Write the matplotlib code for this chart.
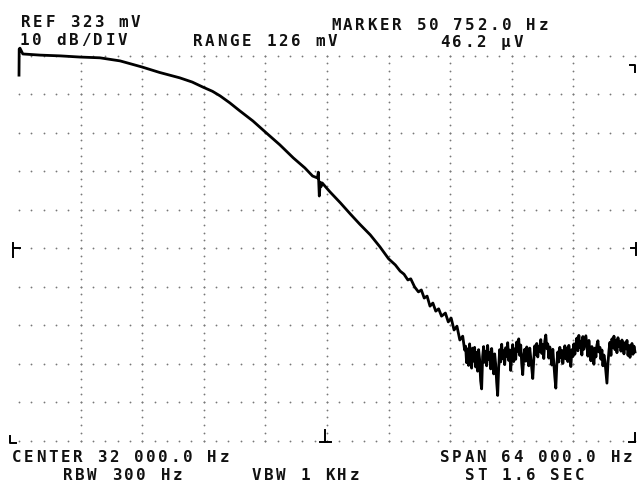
import numpy as np
import matplotlib
matplotlib.use("Agg")
import matplotlib.pyplot as plt

# ---------------------------------------------------------------------------
# Trace: frequency in kHz, level in dB below REF
# ---------------------------------------------------------------------------

trace_khz = [
    0.0, 0.02, 0.1, 0.4, 2.2, 4.3, 6.3, 8.4, 10.5, 12.8, 14.6, 16.7, 18.0,
    19.1, 20.1, 20.9, 21.9, 22.9, 24.3, 25.6, 27.1, 28.5, 29.7, 30.5, 31.0,
    31.1, 31.2, 31.3, 31.4, 31.5, 32.3, 33.4, 34.4, 35.4, 36.5, 37.5, 38.4,
    39.1, 39.6, 40.0, 40.4, 40.7, 41.1, 41.5, 41.8, 42.1, 42.4, 42.7, 43.0,
    43.3, 43.6, 43.9, 44.3, 44.6, 44.9, 45.2, 45.5, 45.8, 46.1, 46.3,
]
trace_db = [
    -5.1, 1.7, 1.9, 0.4, 0.1, -0.1, -0.4, -0.6, -1.4, -3.0, -4.4, -5.8,
    -6.9, -8.2, -9.3, -10.5, -12.3, -14.3, -17.0, -19.9, -23.2, -26.6,
    -29.2, -31.3, -31.8, -30.3, -36.5, -32.9, -34.0, -33.1, -35.4, -38.3,
    -41.1, -43.8, -46.6, -49.7, -52.8, -54.4, -56.0, -56.8, -58.3, -58.0,
    -60.1, -61.4, -60.9, -63.0, -62.5, -65.1, -64.3, -66.4, -65.8, -67.7,
    -66.9, -69.2, -68.2, -71.3, -70.3, -73.9, -72.9, -76.5,
]

# noise floor, 46.4 .. 64 kHz, one value per sweep point
noise_db = [
    -75.5, -79.8, -76.2, -80.5, -74.9, -78.6, -81.2, -76.0, -79.4, -75.8,
    -80.9, -77.1, -82.0, -76.4, -79.0, -84.5, -86.6, -78.2, -75.6, -79.7,
    -76.8, -80.6, -75.3, -78.9, -77.2, -81.4, -76.1, -79.8, -82.7, -77.5,
    -80.2, -84.9, -88.3, -81.0, -76.4, -79.6, -75.0, -78.8, -76.7, -80.3,
    -75.9, -78.1, -74.6, -79.2, -76.5, -81.8, -77.3, -75.1, -79.5, -76.2,
    -78.9, -74.4, -76.8, -73.6, -77.9, -75.2, -80.1, -82.9, -78.0, -76.3,
    -79.4, -75.7, -77.8, -80.6, -76.0, -78.5, -81.2, -83.9, -79.0, -75.4,
    -77.6, -74.8, -78.3, -75.5, -76.9, -73.8, -77.4, -75.0, -78.7, -74.2,
    -72.6, -76.1, -74.9, -78.6, -75.7, -77.9, -80.4, -76.3, -79.8, -83.5,
    -86.4, -80.2, -77.0, -79.6, -75.8, -78.4, -76.6, -80.0, -77.2, -75.4,
    -78.8, -76.0, -79.5, -75.3, -77.7, -80.8, -76.4, -78.2, -74.9, -77.6,
    -75.1, -73.4, -76.7, -72.7, -75.9, -74.2, -77.8, -73.0, -76.3, -74.6,
    -72.8, -75.5, -78.1, -74.0, -76.9, -79.3, -75.6, -77.4, -80.2, -76.0,
    -78.3, -75.2, -74.1, -77.0, -75.8, -78.9, -76.5, -80.6, -77.8, -79.4,
    -82.3, -85.1, -80.0, -76.7, -74.5, -77.9, -73.6, -75.8, -72.9, -76.4,
    -74.0, -77.2, -73.3, -75.6, -74.4, -76.8, -73.9, -75.1, -77.5, -74.6,
    -76.2, -74.0, -77.9, -75.3, -78.4, -76.1, -74.8, -77.6, -75.5, -77.0,
]
noise_start_khz = 46.4
span_khz = 64.0

# little tick glyphs on the screen border, (f, dB) polylines
border_marks = [
    [(-0.62, -48.7), (-0.62, -52.3)], [(-0.62, -50.0), (0.1, -50.0)],
    [(64.1, -48.7), (64.1, -51.8)], [(63.6, -50.0), (64.1, -50.0)],
    [(-0.94, -98.8), (-0.94, -100.6), (-0.31, -100.6)],
    [(63.4, -100.4), (64.0, -100.4)], [(64.0, -98.0), (64.0, -100.4)],
    [(31.8, -97.3), (31.8, -100.4)], [(31.3, -100.4), (32.4, -100.4)],
    [(63.5, -2.5), (64.0, -2.5), (64.0, -4.3)],
]

# annotation text: (left px, baseline px, string)
labels = [
    (21, 27, "REF 323 mV"),
    (20, 45, "10 dB/DIV"),
    (193, 46, "RANGE 126 mV"),
    (331, 30, "MARKER 50 752.0 Hz"),
    (440, 47, "46.2 \u03bcV"),
    (12, 462, "CENTER 32 000.0 Hz"),
    (63, 480, "RBW 300 Hz"),
    (252, 480, "VBW 1 KHz"),
    (440, 462, "SPAN 64 000.0 Hz"),
    (465, 480, "ST 1.6 SEC"),
]

W, H = 638, 483
PITCH = 12.2

fig = plt.figure(figsize=(W / 100, H / 100), dpi=100)
fig.patch.set_facecolor("white")
ax = fig.add_axes([19 / W, (H - 440.5) / H, 616 / W, 385 / H])
ax.set_xlim(0, span_khz)
ax.set_ylim(-100, 0)
ax.axis("off")

# dotted graticule
for db in range(0, -101, -10):
    fx = np.arange(0, span_khz + 0.01, span_khz / 50)
    ax.plot(fx, np.full_like(fx, db), ls="none", marker="o", ms=1.3,
            color="#777777", mew=0, clip_on=False)
for k in range(1, 10):
    dy = np.arange(-100, 0.01, 2)
    ax.plot(np.full_like(dy, k * span_khz / 10), dy, ls="none", marker="o",
            ms=1.3, color="#777777", mew=0, clip_on=False)

# trace
noise_khz = np.linspace(noise_start_khz, span_khz, len(noise_db))
f_all = np.concatenate([trace_khz, noise_khz])
db_all = np.concatenate([trace_db, noise_db])
ax.plot(f_all, db_all, color="black", lw=2.0, clip_on=False,
        solid_joinstyle="round")

for mark in border_marks:
    xs, ys = zip(*mark)
    ax.plot(xs, ys, color="black", lw=1.4, clip_on=False)

# fixed pitch plotter lettering
for x, y, s in labels:
    for i, ch in enumerate(s):
        fig.text((x + i * PITCH) / W, 1 - y / H, ch, ha="left", va="baseline",
                 family="DejaVu Sans Mono", size=11.4, weight="bold",
                 color="#111111")

fig.savefig("out.png", dpi=100, facecolor="white")
